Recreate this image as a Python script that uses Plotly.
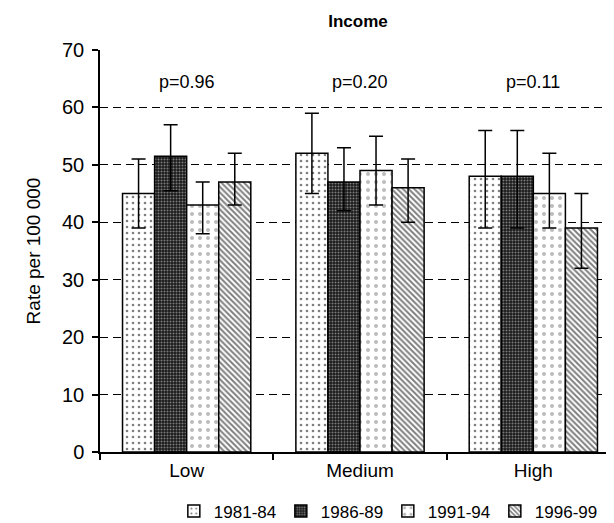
import plotly.graph_objects as go

categories = ["Low", "Medium", "High"]
periods = ["1981-84", "1986-89", "1991-94", "1996-99"]

# bar heights per period (Low, Medium, High)
values = {
    "1981-84": [45, 52, 48],
    "1986-89": [51.5, 47, 48],
    "1991-94": [43, 49, 45],
    "1996-99": [47, 46, 39],
}
# upper and lower ends of the error bars
upper = {
    "1981-84": [51, 59, 56],
    "1986-89": [57, 53, 56],
    "1991-94": [47, 55, 52],
    "1996-99": [52, 51, 45],
}
lower = {
    "1981-84": [39, 45, 39],
    "1986-89": [45.5, 42, 39],
    "1991-94": [38, 43, 39],
    "1996-99": [43, 40, 32],
}
p_values = ["p=0.96", "p=0.20", "p=0.11"]
p_label_y = 64.5
y_ticks = [0, 10, 20, 30, 40, 50, 60, 70]

patterns = {
    "1981-84": dict(shape=".", fgcolor="black", bgcolor="white", size=6, solidity=0.15),
    "1986-89": dict(shape=".", fgcolor="#dddddd", bgcolor="#1a1a1a", size=3, solidity=0.35),
    "1991-94": dict(shape=".", fgcolor="#777777", bgcolor="white", size=8, solidity=0.2),
    "1996-99": dict(shape="\\", fgcolor="black", bgcolor="white", size=4, solidity=0.5),
}

FONT = "Liberation Sans, Arial, sans-serif"
fig = go.Figure()
for p in periods:
    v = values[p]
    fig.add_trace(go.Bar(
        name=p, x=categories, y=v,
        marker=dict(color="white", line=dict(color="black", width=1.5), pattern=patterns[p]),
        error_y=dict(type="data", symmetric=False,
                     array=[u - a for u, a in zip(upper[p], v)],
                     arrayminus=[a - l for l, a in zip(lower[p], v)],
                     color="black", thickness=1.5, width=7),
    ))

for c, t in zip(categories, p_values):
    fig.add_annotation(x=c, y=p_label_y, text=t, showarrow=False,
                       font=dict(size=18, color="black", family=FONT))

fig.update_layout(
    width=614, height=523,
    margin=dict(l=92, r=2, t=42, b=76),
    paper_bgcolor="white", plot_bgcolor="white",
    barmode="group", bargap=0.26, bargroupgap=0,
    font=dict(family=FONT, size=20, color="black"),
    title=dict(text="<b>Income</b>", x=0.57, xanchor="center", y=0.975, yanchor="middle",
               font=dict(size=17, family=FONT)),
    showlegend=True,
    legend=dict(orientation="h", x=0.142, xanchor="left", y=-0.148, yanchor="middle",
                font=dict(size=17), itemwidth=30, entrywidth=62, tracegroupgap=0,
                borderwidth=0),
    xaxis=dict(showline=True, linecolor="black", linewidth=1.5, ticks="outside",
               tickson="boundaries", ticklen=6, tickcolor="black", tickwidth=1.5,
               showgrid=False, tickfont=dict(size=19)),
    yaxis=dict(range=[0, 70], tickvals=y_ticks, showline=True, linecolor="black",
               linewidth=1.5, ticks="outside", ticklen=6, tickcolor="black", tickwidth=1.5,
               showgrid=True, gridcolor="black", gridwidth=1, griddash="8px,5px",
               zeroline=False, tickfont=dict(size=20), ticklabelstandoff=4,
               title=dict(text="Rate per 100 000", font=dict(size=19), standoff=16)),
)
fig.write_html("out.html")
